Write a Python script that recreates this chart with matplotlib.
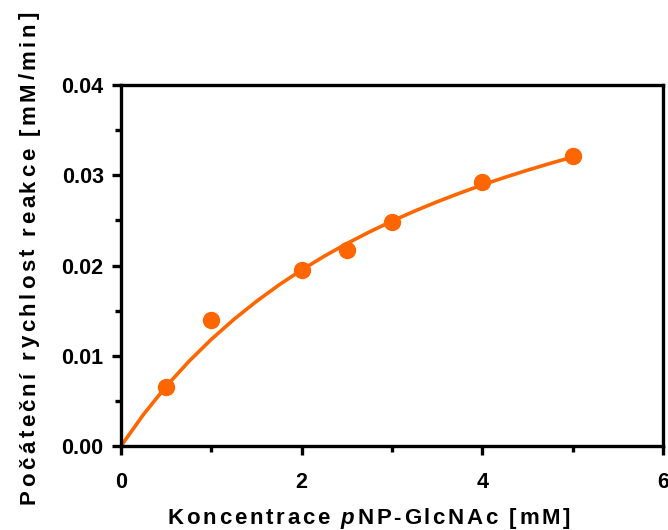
import matplotlib
matplotlib.use('Agg')
import matplotlib.pyplot as plt
from matplotlib.ticker import MultipleLocator
from matplotlib.font_manager import FontProperties, findfont, get_font

# measured points
conc = [0.5, 1.0, 2.0, 2.5, 3.0, 4.0, 5.0]
rate = [0.0065, 0.0140, 0.0195, 0.0217, 0.0248, 0.0293, 0.0321]

# fitted curve
fit_x = [0, 0.25, 0.5, 0.75, 1.0, 1.25, 1.5, 1.75, 2.0, 2.25, 2.5,
         2.75, 3.0, 3.25, 3.5, 3.75, 4.0, 4.25, 4.5, 4.75, 5.0]
fit_y = [0, 0.00351, 0.00661, 0.00936, 0.01182, 0.01403, 0.01603, 0.01785,
         0.01951, 0.02103, 0.02243, 0.02372, 0.02492, 0.02603, 0.02706,
         0.02802, 0.02893, 0.02977, 0.03056, 0.03131, 0.03202]

x_ticks = [0, 2, 4, 6]
x_tick_labels = ['0', '2', '4', '6']
y_ticks = [0.00, 0.01, 0.02, 0.03, 0.04]
y_tick_labels = ['0.00', '0.01', '0.02', '0.03', '0.04']

xlabel_parts = [('Koncentrace ', 'normal'), ('p', 'italic'), ('NP-GlcNAc [mM]', 'normal')]
ylabel_parts = [('Počáteční rychlost reakce [mM/min]', 'normal')]

ORANGE = '#FF6600'
W, H, DPI = 668, 530, 100

plt.rcParams['font.family'] = ['Liberation Sans', 'DejaVu Sans']
plt.rcParams['font.weight'] = 'bold'

fig = plt.figure(figsize=(W / DPI, H / DPI), dpi=DPI)
ax = fig.add_axes([121 / W, (H - 446) / H, (663 - 121) / W, (446 - 85) / H])

ax.plot(fit_x, fit_y, color=ORANGE, lw=2.6, zorder=2)
ax.plot(conc, rate, 'o', color=ORANGE, ms=11.5, zorder=3)

ax.set_xlim(0, 6)
ax.set_ylim(0, 0.04)
ax.set_xticks(x_ticks)
ax.set_xticklabels(x_tick_labels)
ax.set_yticks(y_ticks)
ax.set_yticklabels(y_tick_labels)
ax.xaxis.set_minor_locator(MultipleLocator(1))
ax.yaxis.set_minor_locator(MultipleLocator(0.005))

for s in ax.spines.values():
    s.set_linewidth(2.4)
ax.tick_params(which='both', direction='out', width=2.4, top=False, right=False)
ax.tick_params(which='major', length=6.5, labelsize=15.5)
ax.tick_params(axis='x', which='major', pad=12)
ax.tick_params(axis='y', which='major', pad=6)
ax.tick_params(which='minor', length=4.5)


def advance(ch, prop):
    font = get_font(findfont(prop))
    font.set_size(prop.get_size_in_points(), DPI)
    return font.load_char(ord(ch)).linearHoriAdvance / 65536


def spaced_label(parts, center, base, size, spacing, vertical=False):
    # letter-spaced label, one character at a time
    chars = []
    for text, style in parts:
        prop = FontProperties(family='Liberation Sans', weight='bold', style=style, size=size)
        for ch in text:
            chars.append((ch, prop, advance(ch, prop)))
    total = sum(a for _, _, a in chars) + spacing * (len(chars) - 1)
    pos = center - total / 2
    for ch, prop, a in chars:
        if vertical:
            fig.text(base / W, pos / H, ch, fontproperties=prop, rotation=90,
                     rotation_mode='anchor', ha='left', va='baseline')
        else:
            fig.text(pos / W, base / H, ch, fontproperties=prop,
                     ha='left', va='baseline')
        pos += a + spacing


spaced_label(xlabel_parts, 369, H - 524, 16, 2.7)
spaced_label(ylabel_parts, H - 258, 35, 16, 3.4, vertical=True)

fig.savefig('out.png', dpi=DPI)
